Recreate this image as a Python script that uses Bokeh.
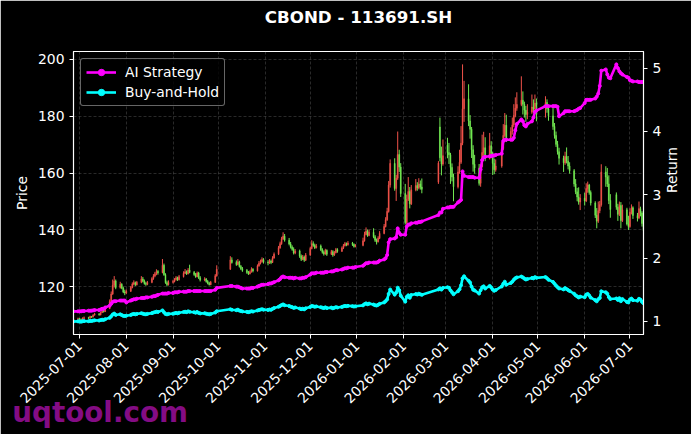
import math
import numpy as np
import pandas as pd
from bokeh.plotting import figure
from bokeh.models import (Range1d, LinearAxis, FixedTicker, DatetimeTickFormatter,
                          SingleIntervalTicker, Title, Legend, LegendItem, ColumnDataSource)
from bokeh.embed import file_html
from bokeh.resources import INLINE

# ---------------- data ----------------
chart_title = "CBOND - 113691.SH"
watermark = "uqtool.com"
first_day, last_day = "2025-06-27", "2026-07-10"
holidays = ["2025-10-01", "2025-10-02", "2025-10-03", "2025-10-06", "2025-10-07", "2025-10-08",
            "2026-01-01", "2026-01-02",
            "2026-02-16", "2026-02-17", "2026-02-18", "2026-02-19", "2026-02-20", "2026-02-23",
            "2026-04-06", "2026-05-01", "2026-05-04", "2026-05-05", "2026-06-19"]
tick_dates = ["2025-07-01", "2025-08-01", "2025-09-01", "2025-10-01", "2025-11-01", "2025-12-01",
              "2026-01-01", "2026-02-01", "2026-03-01", "2026-04-01", "2026-05-01", "2026-06-01",
              "2026-07-01"]

open_px = [
    108.2, 108.6,
    108.8, 108.5, 108.3, 108.9, 109.2, 109.0, 109.6, 109.4, 110.1, 110.5, 110.2, 111.0, 111.6, 111.3, 112.4, 114.8, 117.5, 120.6, 122.1, 119.8, 120.9, 119.6, 118.2,
    117.9, 118.5, 119.8, 121.0, 121.5, 120.8, 121.6, 122.8, 122.0, 121.2, 120.9, 121.6, 122.9, 123.8, 124.6, 125.4, 125.0, 127.6, 124.3, 121.5, 120.8,
    121.6, 121.9, 122.6, 123.2, 122.5, 123.6, 124.8, 125.3, 124.6, 125.9, 125.1, 124.4, 123.6, 124.9, 123.2, 122.4, 122.8, 121.9, 121.3, 120.8, 121.6, 123.9,
    126.2, 129.5, 128.6, 127.9, 128.8, 127.2, 126.4, 125.8, 125.1, 124.6, 125.3, 126.2, 125.6, 127.4, 128.3, 128.9, 129.6,
    128.7, 128.4, 129.1, 128.6, 130.2, 131.5, 133.8, 135.2, 136.9, 137.8, 136.4, 135.1, 134.0, 133.2, 131.9, 132.6, 130.8, 129.7, 130.5, 129.4,
    131.2, 133.5, 135.2, 134.6, 133.8, 134.4, 133.1, 132.2, 131.6, 132.8, 131.5, 132.4, 131.2, 132.0, 133.1, 132.5, 133.6, 134.5, 135.2, 134.8, 135.4, 134.9, 134.2,
    134.6, 136.2, 138.4, 139.6, 138.1, 139.2, 137.6, 136.4, 135.9, 137.1, 138.8, 141.2, 143.6, 146.5, 155.8, 163.4, 154.6, 158.2, 166.5, 162.1,
    152.8, 142.6, 150.8, 153.5, 149.2, 154.1, 155.6, 154.8, 156.2, 155.1, 156.8, 176.2, 165.4, 163.2,
    169.8, 167.2, 166.4, 162.0, 158.6, 155.2, 160.4, 163.8, 170.5, 182.6, 186.1, 178.3, 175.4, 168.2, 163.1, 161.8, 156.4, 162.3, 167.2, 168.9, 165.1, 169.6,
    166.9, 163.4, 161.2, 162.5, 168.6, 173.2, 176.8, 171.5, 174.6, 176.9, 180.2, 182.8, 184.1, 185.6, 184.2, 182.1, 180.6, 181.4, 183.2, 182.5, 184.6,
    183.4, 184.8, 182.6, 180.1, 176.4, 173.2, 170.1, 167.5, 165.2, 163.6, 165.8, 164.2, 162.5, 160.8, 156.2, 153.4, 151.6, 149.8,
    151.2, 150.2, 154.6, 155.8, 153.2, 149.5, 145.2, 143.1, 146.8, 148.9, 160.4, 158.6, 156.2, 150.4, 152.4, 148.0, 145.5, 148.6, 143.3, 147.1, 142.1,
    141.2, 146.2, 147.8, 145.1, 144.2, 147.5, 146.0, 142.3,
]
high_px = [
    109.3, 109.2,
    109.1, 108.9, 109.3, 109.6, 109.5, 109.9, 109.8, 110.4, 110.9, 110.8, 111.3, 112.0, 111.9, 112.8, 115.6, 118.4, 122.6, 123.8, 122.6, 121.8, 121.3, 120.1, 119.0,
    119.1, 120.3, 121.6, 122.3, 121.9, 122.1, 123.8, 123.5, 122.6, 121.8, 122.1, 123.4, 124.5, 125.3, 126.2, 125.9, 129.8, 128.2, 124.8, 122.2, 122.3,
    122.5, 123.1, 123.8, 123.6, 124.2, 125.5, 126.3, 125.8, 126.6, 127.8, 125.6, 124.9, 125.4, 125.3, 123.8, 123.4, 123.1, 122.4, 121.8, 122.1, 124.5, 127.6,
    130.8, 130.4, 129.3, 129.8, 129.2, 127.7, 127.0, 126.3, 125.6, 125.8, 126.9, 126.6, 127.9, 129.1, 129.6, 130.4, 130.1,
    129.4, 129.8, 129.6, 130.8, 132.1, 134.4, 135.9, 137.6, 139.2, 138.6, 137.2, 135.8, 134.6, 133.9, 133.3, 133.1, 131.4, 131.2, 131.0, 131.9,
    134.1, 136.4, 136.0, 135.2, 135.1, 134.9, 133.6, 132.8, 133.4, 133.2, 133.0, 132.9, 132.6, 133.7, 133.6, 134.2, 135.1, 135.8, 135.6, 136.1, 135.8, 135.3, 135.0,
    137.3, 139.4, 140.9, 140.2, 140.1, 140.6, 138.2, 137.0, 137.8, 139.6, 142.1, 144.5, 147.8, 157.2, 164.8, 165.2, 159.4, 174.6, 168.2, 163.5,
    156.2, 152.4, 158.6, 155.1, 155.8, 157.9, 156.8, 158.2, 157.4, 158.1, 164.2, 179.5, 169.3, 171.8,
    172.4, 170.6, 167.1, 163.4, 159.8, 162.4, 168.2, 176.5, 198.2, 192.4, 191.2, 180.4, 176.2, 169.8, 166.4, 163.2, 163.0, 173.5, 174.5, 172.6, 174.1, 171.2,
    167.5, 165.1, 164.8, 171.0, 177.2, 181.1, 180.5, 176.1, 179.5, 184.2, 186.6, 188.4, 194.0, 188.7, 185.1, 183.6, 184.2, 187.6, 185.9, 187.6, 186.2,
    187.0, 185.9, 184.0, 183.0, 177.6, 174.6, 171.3, 168.9, 166.1, 167.5, 169.0, 166.0, 163.8, 161.4, 157.9, 154.8, 155.0, 152.6,
    153.1, 156.4, 157.0, 156.2, 153.9, 150.1, 147.7, 150.0, 150.2, 163.1, 162.4, 161.8, 159.2, 152.6, 153.2, 149.2, 150.0, 149.8, 148.9, 147.8, 145.0,
    147.6, 149.0, 148.3, 146.0, 150.0, 148.2, 146.6, 143.2,
]
low_px = [
    107.9, 108.1,
    108.0, 107.8, 108.2, 108.6, 108.7, 108.9, 109.1, 109.3, 109.9, 109.9, 110.0, 110.8, 111.0, 111.2, 112.2, 114.5, 117.2, 119.8, 119.2, 119.4, 119.2, 117.8, 117.1,
    117.5, 118.2, 119.5, 120.6, 120.3, 120.5, 121.3, 121.6, 120.8, 120.4, 120.6, 121.3, 122.5, 123.4, 124.1, 124.3, 124.8, 123.9, 121.1, 120.2, 120.5,
    121.2, 121.6, 122.2, 122.1, 122.3, 123.3, 124.5, 124.2, 124.4, 124.8, 123.9, 123.2, 123.4, 122.8, 121.9, 122.0, 121.5, 120.9, 120.5, 120.6, 121.4, 123.6,
    126.0, 128.2, 127.4, 127.6, 126.8, 125.9, 125.3, 124.6, 124.2, 124.4, 125.0, 125.1, 125.4, 127.1, 127.9, 128.5, 128.2,
    127.6, 128.1, 128.0, 128.4, 129.9, 131.2, 133.4, 134.8, 136.5, 135.9, 134.6, 133.5, 132.7, 131.4, 131.5, 130.2, 129.1, 129.4, 128.8, 129.1,
    130.9, 133.2, 134.1, 133.3, 133.5, 132.6, 131.7, 131.0, 131.3, 130.9, 131.2, 130.6, 130.9, 131.8, 132.0, 132.3, 133.3, 134.2, 134.3, 134.5, 134.4, 133.8, 133.9,
    134.3, 135.9, 138.1, 137.6, 137.8, 137.1, 135.8, 134.9, 135.6, 136.8, 138.5, 140.9, 143.2, 146.1, 154.9, 153.8, 150.2, 157.6, 160.4, 151.6,
    141.9, 142.1, 150.2, 147.6, 148.8, 153.6, 153.8, 154.3, 154.2, 152.9, 156.2, 164.1, 159.2, 162.6,
    165.2, 163.2, 156.2, 157.1, 150.1, 154.6, 159.8, 163.2, 169.8, 178.0, 176.5, 172.1, 165.3, 160.5, 159.8, 155.6, 155.2, 162.0, 165.1, 164.2, 164.8, 165.4,
    159.3, 159.6, 160.5, 161.9, 168.1, 172.6, 170.9, 171.2, 173.5, 176.2, 179.6, 181.9, 183.5, 180.6, 179.5, 178.0, 178.9, 180.8, 181.2, 182.0, 178.2,
    179.5, 181.2, 178.4, 175.2, 172.1, 169.2, 166.5, 163.0, 160.4, 162.9, 163.4, 161.3, 159.8, 155.2, 152.6, 150.1, 148.9, 147.0,
    148.6, 149.8, 153.1, 152.4, 148.6, 144.2, 140.6, 142.5, 145.9, 148.2, 155.2, 155.1, 149.1, 144.3, 147.1, 143.2, 144.9, 140.6, 142.8, 141.6, 140.0,
    140.8, 145.5, 143.9, 143.0, 143.8, 144.8, 141.2, 139.0,
]
close_px = [
    108.6, 108.8,
    108.5, 108.3, 108.9, 109.2, 109.0, 109.6, 109.4, 110.1, 110.5, 110.2, 111.0, 111.6, 111.3, 112.4, 114.8, 117.5, 120.6, 122.1, 119.8, 120.9, 119.6, 118.2, 117.9,
    118.5, 119.8, 121.0, 121.5, 120.8, 121.6, 122.8, 122.0, 121.2, 120.9, 121.6, 122.9, 123.8, 124.6, 125.4, 125.0, 127.6, 124.3, 121.5, 120.8, 121.6,
    121.9, 122.6, 123.2, 122.5, 123.6, 124.8, 125.3, 124.6, 125.9, 125.1, 124.4, 123.6, 124.9, 123.2, 122.4, 122.8, 121.9, 121.3, 120.8, 121.6, 123.9, 126.2,
    129.5, 128.6, 127.9, 128.8, 127.2, 126.4, 125.8, 125.1, 124.6, 125.3, 126.2, 125.6, 127.4, 128.3, 128.9, 129.6, 128.7,
    128.4, 129.1, 128.6, 130.2, 131.5, 133.8, 135.2, 136.9, 137.8, 136.4, 135.1, 134.0, 133.2, 131.9, 132.6, 130.8, 129.7, 130.5, 129.4, 131.2,
    133.5, 135.2, 134.6, 133.8, 134.4, 133.1, 132.2, 131.6, 132.8, 131.5, 132.4, 131.2, 132.0, 133.1, 132.5, 133.6, 134.5, 135.2, 134.8, 135.4, 134.9, 134.2, 134.6,
    136.2, 138.4, 139.6, 138.1, 139.2, 137.6, 136.4, 135.9, 137.1, 138.8, 141.2, 143.6, 146.5, 155.8, 163.4, 154.6, 158.2, 166.5, 162.1, 152.8,
    142.6, 150.8, 153.5, 149.2, 154.1, 155.6, 154.8, 156.2, 155.1, 154.3, 163.5, 165.4, 163.2, 166.1,
    167.2, 166.4, 162.0, 158.6, 155.2, 160.4, 163.8, 170.5, 182.6, 186.1, 178.3, 175.4, 168.2, 163.1, 161.8, 156.4, 162.3, 167.2, 168.9, 165.1, 169.6, 166.9,
    163.4, 161.2, 162.5, 168.6, 173.2, 176.8, 171.5, 174.6, 176.9, 180.2, 182.8, 184.1, 185.6, 184.2, 182.1, 180.6, 181.4, 183.2, 182.5, 184.6, 183.4,
    184.8, 182.6, 180.1, 176.4, 173.2, 170.1, 167.5, 165.2, 163.6, 165.8, 164.2, 162.5, 160.8, 156.2, 153.4, 151.6, 149.8, 151.2,
    150.2, 154.6, 155.8, 153.2, 149.5, 145.2, 143.1, 146.8, 148.9, 160.4, 158.6, 156.2, 150.4, 147.2, 148.0, 145.5, 148.6, 143.3, 147.1, 142.1, 141.2,
    146.2, 147.8, 145.1, 144.2, 147.5, 146.0, 142.3, 139.8,
]
ai_strategy = [
    1.16, 1.16,
    1.16, 1.16, 1.165, 1.165, 1.17, 1.17, 1.17, 1.175, 1.18, 1.18, 1.19, 1.20, 1.20, 1.22, 1.25, 1.28, 1.31, 1.32, 1.32, 1.33, 1.33, 1.33, 1.33,
    1.30, 1.33, 1.34, 1.35, 1.35, 1.36, 1.37, 1.37, 1.37, 1.38, 1.38, 1.39, 1.40, 1.40, 1.41, 1.42, 1.44, 1.44, 1.44, 1.44, 1.45,
    1.45, 1.46, 1.46, 1.46, 1.47, 1.47, 1.47, 1.47, 1.48, 1.48, 1.48, 1.48, 1.48, 1.48, 1.48, 1.48, 1.48, 1.48, 1.48, 1.48, 1.50, 1.53,
    1.56, 1.56, 1.55, 1.55, 1.54, 1.53, 1.52, 1.52, 1.52, 1.52, 1.53, 1.53, 1.55, 1.56, 1.57, 1.58, 1.58,
    1.59, 1.60, 1.60, 1.61, 1.62, 1.65, 1.67, 1.70, 1.71, 1.70, 1.69, 1.69, 1.69, 1.68, 1.69, 1.68, 1.68, 1.69, 1.69, 1.70,
    1.74, 1.76, 1.76, 1.76, 1.77, 1.77, 1.77, 1.77, 1.78, 1.78, 1.79, 1.79, 1.80, 1.81, 1.81, 1.82, 1.83, 1.84, 1.84, 1.85, 1.85, 1.85, 1.86,
    1.88, 1.90, 1.92, 1.92, 1.93, 1.93, 1.93, 1.93, 1.94, 1.96, 1.98, 2.00, 2.05, 2.25, 2.30, 2.31, 2.33, 2.47, 2.40, 2.37,
    2.37, 2.50, 2.53, 2.53, 2.55, 2.56, 2.56, 2.57, 2.57, 2.58, 2.68, 2.72, 2.72, 2.78,
    2.80, 2.80, 2.81, 2.81, 2.81, 2.88, 2.90, 2.92, 3.37, 3.30, 3.28, 3.28, 3.28, 3.28, 3.27, 3.27, 3.40, 3.55, 3.59, 3.60, 3.61, 3.61,
    3.62, 3.62, 3.63, 3.65, 3.85, 3.87, 3.87, 3.87, 3.87, 3.90, 4.02, 4.12, 4.19, 4.16, 4.10, 4.08, 4.12, 4.16, 4.22, 4.31, 4.33,
    4.40, 4.40, 4.40, 4.40, 4.40, 4.40, 4.39, 4.24, 4.29, 4.32, 4.32, 4.32, 4.32, 4.32, 4.33, 4.34, 4.36, 4.37,
    4.45, 4.50, 4.50, 4.50, 4.50, 4.52, 4.55, 4.60, 4.72, 4.96, 4.98, 4.90, 4.85, 4.84, 5.06, 5.00, 4.95, 4.92, 4.90, 4.86, 4.85,
    4.81, 4.80, 4.79, 4.79, 4.78, 4.78, 4.78, 4.78,
]

# ---------------- derived ----------------
dates = pd.bdate_range(first_day, last_day)
dates = dates[~dates.isin(pd.to_datetime(holidays))]
o = np.array(open_px); h = np.array(high_px); l = np.array(low_px); c = np.array(close_px)
buy_hold = c / c[0]
up = c >= o
UP_COLOR, DOWN_COLOR = "#f0524a", "#72e852"
colors = np.where(up, UP_COLOR, DOWN_COLOR)

src = ColumnDataSource(dict(date=dates, open=o, high=h, low=l, close=c,
                            top=np.maximum(o, c), bottom=np.minimum(o, c), color=colors,
                            ai=np.array(ai_strategy), bh=buy_hold))

lo, hi = l.min(), h.max()
pad = (hi - lo) * 0.05
r_lo = min(min(ai_strategy), buy_hold.min()); r_hi = max(max(ai_strategy), buy_hold.max())
rpad = (r_hi - r_lo) * 0.05

FONT = "DejaVu Sans"
p = figure(width=691, height=434, x_axis_type="datetime", output_backend="svg",
           toolbar_location=None,
           x_range=Range1d(dates[0], dates[-1]), y_range=Range1d(lo - pad, hi + pad),
           min_border_left=73, min_border_right=48, min_border_top=51, min_border_bottom=100,
           background_fill_color="black", border_fill_color="black",
           outline_line_color="white", outline_line_width=1.2)
p.extra_y_ranges = {"ret": Range1d(r_lo - rpad, r_hi + rpad)}
p.title.text = ""

# spacer panel between the frame and the title, then the title itself
p.add_layout(Title(text=" ", text_font_size="2px", standoff=21), "above")
p.add_layout(Title(text=chart_title, text_color="white", text_font=FONT,
                   text_font_size="16.7px", text_font_style="bold", align="center",
                   standoff=0), "above")

# candles
day_ms = 86400000
p.segment(x0="date", y0="low", x1="date", y1="high", color="color", line_width=1, source=src)
p.vbar(x="date", width=0.6 * day_ms, top="top", bottom="bottom", fill_color="color",
       line_color="color", line_width=0.5, source=src)

# lines
l_ai = p.line("date", "ai", y_range_name="ret", color="#ff00ff", line_width=2.6, source=src)
s_ai = p.scatter("date", "ai", y_range_name="ret", color="#ff00ff", size=3, source=src)
l_bh = p.line("date", "bh", y_range_name="ret", color="#00ffff", line_width=2.6, source=src)
s_bh = p.scatter("date", "bh", y_range_name="ret", color="#00ffff", size=3, source=src)

right_axis = LinearAxis(y_range_name="ret", axis_label="Return", ticker=SingleIntervalTicker(interval=1))
p.add_layout(right_axis, "right")
if hasattr(right_axis, "axis_label_orientation"):
    right_axis.axis_label_orientation = math.pi / 2
right_axis.axis_label_standoff = 8

p.yaxis[0].ticker = SingleIntervalTicker(interval=20)
p.yaxis[0].axis_label = "Price"
month_ticker = FixedTicker(ticks=[pd.Timestamp(t).value / 1e6 for t in tick_dates])
p.xaxis.ticker = month_ticker
p.xgrid[0].ticker = month_ticker
fmt = "%Y-%m-%d"
p.xaxis.formatter = DatetimeTickFormatter(years=fmt, months=fmt, days=fmt, hours=fmt,
                                          minutes=fmt, seconds=fmt, milliseconds=fmt,
                                          microseconds=fmt, hourmin=fmt, minsec=fmt)
p.xaxis.major_label_orientation = math.pi / 4

for ax in p.axis:
    ax.axis_line_color = "white"
    ax.major_tick_line_color = "white"
    ax.minor_tick_line_color = None
    ax.major_tick_out = 4
    ax.major_tick_in = 0
    ax.major_label_text_color = "white"
    ax.major_label_text_font = FONT
    ax.major_label_text_font_size = "13.9px"
    ax.axis_label_text_color = "white"
    ax.axis_label_text_font = FONT
    ax.axis_label_text_font_size = "13.9px"
    ax.axis_label_text_font_style = "normal"

for g in (p.xgrid[0], p.ygrid[0]):
    g.grid_line_color = "#9a9a9a"
    g.grid_line_alpha = 0.45
    g.grid_line_dash = "3 2"
    g.grid_line_width = 0.6

legend = Legend(items=[LegendItem(label="AI Strategy", renderers=[l_ai, s_ai]),
                       LegendItem(label="Buy-and-Hold", renderers=[l_bh, s_bh])],
                location="top_left")
legend.background_fill_color = "black"
legend.background_fill_alpha = 0.8
legend.border_line_color = "#cccccc"
legend.border_line_width = 1
legend.label_text_color = "white"
legend.label_text_font = FONT
legend.label_text_font_size = "13.9px"
legend.glyph_width = 30
legend.glyph_height = 16
legend.label_height = 16
legend.label_standoff = 9
legend.spacing = 4
legend.padding = 5
legend.margin = 7
if hasattr(legend, "border_radius"):
    legend.border_radius = 3
p.add_layout(legend)

# watermark: a zero-height title panel below the date labels, pulled left onto them
p.add_layout(Title(text=watermark, align="left", offset=-61.3, standoff=-33.4,
                   text_font=FONT, text_font_size="27.8px", text_font_style="bold",
                   text_color="#b010b0", text_alpha=0.75), "below")

open("out.html", "w").write(file_html(p, INLINE))
